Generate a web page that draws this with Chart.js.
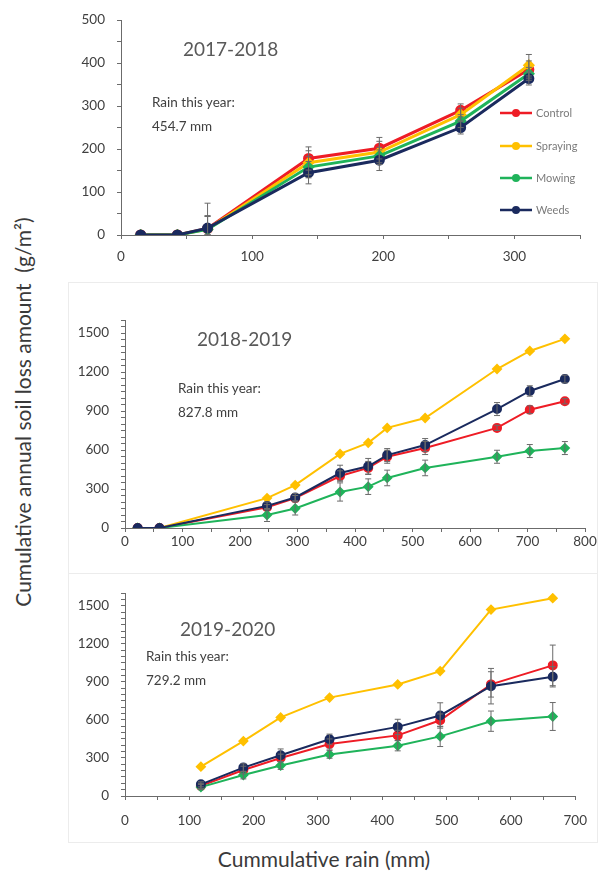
<!DOCTYPE html>
<html>
<head>
<meta charset="utf-8">
<script src="https://cdn.jsdelivr.net/npm/chart.js@4.4.1/dist/chart.umd.min.js"></script>
<style>
  body { margin: 0; background: #fff; font-family: Lato, "Open Sans", sans-serif; }
  #page { position: relative; width: 602px; height: 876px; overflow: hidden; }
  .panel { position: absolute; }
  .frame { position: absolute; border: 1px solid #ececec; }
  .txt { position: absolute; color: #404040; white-space: nowrap; }
  .year { font-size: 19px; color: #595959; }
  .rain { font-size: 13.5px; line-height: 24px; }
  .axtitle { font-size: 21px; color: #3a3a3a; }
</style>
</head>
<body>
<div id="page">
  <div class="frame" style="left:68px;top:282px;width:528px;height:290px;"></div>
  <div class="frame" style="left:68px;top:573px;width:528px;height:268px;"></div>

  <div class="panel" style="left:60px;top:0;width:530px;height:275px;"><canvas id="c1"></canvas></div>
  <div class="panel" style="left:60px;top:283px;width:540px;height:290px;"><canvas id="c2"></canvas></div>
  <div class="panel" style="left:60px;top:573px;width:540px;height:257px;"><canvas id="c3"></canvas></div>

  <div class="txt year" style="left:183px;top:37px;">2017-2018</div>
  <div class="txt rain" style="left:152px;top:90px;">Rain this year:<br>454.7 mm</div>

  <div class="txt year" style="left:197px;top:327px;">2018-2019</div>
  <div class="txt rain" style="left:178px;top:376px;">Rain this year:<br>827.8 mm</div>

  <div class="txt year" style="left:180px;top:617px;">2019-2020</div>
  <div class="txt rain" style="left:146px;top:644px;">Rain this year:<br>729.2 mm</div>

  <div class="txt axtitle" style="left:22px;top:412px;transform:translate(-50%,-50%) rotate(-90deg);">Cumulative annual soil loss amount&nbsp; (g/m²)</div>
  <div class="txt axtitle" style="left:324px;top:858px;transform:translate(-50%,-50%);">Cummulative rain (mm)</div>
</div>

<script>
// series names and colours
var seriesNames = ["Control", "Spraying", "Mowing", "Weeds"];
var seriesColors = ["#ee1c25", "#ffc000", "#1fb35a", "#1a2a5e"];
var seriesMarkers = ["circle", "rectRot", "rectRot", "circle"];

// 2017-2018
var rain1 = [15, 43, 66, 143, 197, 259, 311];
var control1 = [0, 0, 15, 178, 202, 290, 385];
var spraying1 = [0, 0, 14, 168, 193, 280, 395];
var mowing1 = [0, 0, 13, 158, 184, 265, 375];
var weeds1 = [0, 0, 16, 145, 174, 250, 364];
var controlErr1 = [0, 0, 30, 27, 25, 15, 20];
var sprayingErr1 = [0, 0, 30, 28, 25, 15, 25];
var mowingErr1 = [0, 0, 30, 25, 20, 15, 15];
var weedsErr1 = [0, 0, 58, 26, 24, 15, 15];

// 2018-2019
var rain2 = [22, 60, 247, 296, 374, 423, 456, 522, 647, 704, 765];
var control2 = [0, 0, 160, 230, 400, 462, 548, 615, 770, 910, 975];
var spraying2 = [0, 0, 230, 330, 570, 655, 770, 846, 1223, 1362, 1455];
var mowing2 = [0, 0, 100, 150, 277, 318, 385, 462, 548, 592, 615];
var weeds2 = [0, 0, 170, 235, 423, 475, 561, 638, 915, 1054, 1146];
var controlErr2 = [0, 0, 20, 20, 40, 50, 50, 50, 20, 30, 20];
var sprayingErr2 = [0, 0, 0, 0, 0, 0, 0, 0, 0, 0, 0];
var mowingErr2 = [0, 0, 50, 50, 70, 60, 60, 60, 50, 50, 50];
var weedsErr2 = [0, 0, 30, 30, 60, 60, 50, 50, 50, 40, 30];

// 2019-2020
var rain3 = [118, 184, 242, 318, 424, 490, 569, 665];
var control3 = [80, 205, 300, 410, 478, 597, 880, 1030];
var spraying3 = [231, 433, 620, 776, 880, 985, 1470, 1560];
var mowing3 = [70, 165, 240, 328, 396, 470, 590, 627];
var weeds3 = [92, 224, 321, 448, 545, 635, 866, 940];
var controlErr3 = [20, 30, 30, 40, 40, 50, 100, 160];
var sprayingErr3 = [0, 0, 0, 0, 0, 0, 0, 0];
var mowingErr3 = [20, 30, 30, 30, 40, 80, 80, 110];
var weedsErr3 = [20, 30, 50, 40, 60, 100, 140, 80];

var axisColor = "#6b6b6b";
var tickColor = "#404040";

function points(xs, ys) {
    return xs.map(function (x, i) { return { x: x, y: ys[i] }; });
}

function makeDatasets(xs, lists, errs, lineWidth) {
    return lists.map(function (ys, i) {
        return {
            label: seriesNames[i],
            data: points(xs, ys),
            errors: errs[i],
            borderColor: seriesColors[i],
            backgroundColor: seriesColors[i],
            borderWidth: lineWidth,
            pointStyle: seriesMarkers[i],
            pointRadius: 4,
            pointHoverRadius: 4,
            tension: 0,
            order: 3 - i,
        };
    });
}

// vertical error bars with caps, placed through the chart's own scales
var errorBars = {
    id: "errorBars",
    afterDatasetsDraw: function (chart) {
        var ctx = chart.ctx;
        var ys = chart.scales.y;
        ctx.save();
        ctx.strokeStyle = "#6a6a6a";
        ctx.lineWidth = 1;
        chart.data.datasets.forEach(function (ds, di) {
            var meta = chart.getDatasetMeta(di);
            meta.data.forEach(function (pt, i) {
                var e = ds.errors[i];
                if (!e) return;
                var v = ds.data[i].y;
                var top = ys.getPixelForValue(v + e);
                var bot = ys.getPixelForValue(Math.max(v - e, 0));
                ctx.beginPath();
                ctx.moveTo(pt.x, top); ctx.lineTo(pt.x, bot);
                ctx.moveTo(pt.x - 3, top); ctx.lineTo(pt.x + 3, top);
                ctx.moveTo(pt.x - 3, bot); ctx.lineTo(pt.x + 3, bot);
                ctx.stroke();
            });
        });
        ctx.restore();
    },
};

// legend inside the first panel
var innerLegend = {
    id: "innerLegend",
    afterDraw: function (chart) {
        if (!chart.options.plugins.innerLegend.show) return;
        var ctx = chart.ctx;
        var rows = [113, 146, 178, 210];
        ctx.save();
        ctx.font = "11px Lato";
        ctx.textBaseline = "middle";
        seriesNames.forEach(function (name, i) {
            var y = rows[i];
            ctx.strokeStyle = seriesColors[i];
            ctx.lineWidth = 2.5;
            ctx.beginPath();
            ctx.moveTo(440, y); ctx.lineTo(472, y);
            ctx.stroke();
            ctx.fillStyle = seriesColors[i];
            ctx.beginPath();
            ctx.arc(456, y, 4, 0, Math.PI * 2);
            ctx.fill();
            ctx.fillStyle = "#7a7a7a";
            ctx.fillText(name, 476, y);
        });
        ctx.restore();
    },
};

function makeChart(id, datasets, opt) {
    return new Chart(document.getElementById(id).getContext("2d"), {
        type: "line",
        data: { datasets: datasets },
        plugins: [errorBars, innerLegend],
        options: {
            responsive: true,
            maintainAspectRatio: false,
            animation: false,
            layout: { padding: { left: 0, top: opt.padTop, right: opt.padRight, bottom: 0 } },
            plugins: {
                legend: { display: false },
                tooltip: { enabled: false },
                innerLegend: { show: opt.legend },
            },
            scales: {
                x: {
                    type: "linear",
                    min: 0,
                    max: opt.xMax,
                    afterFit: function (s) { s.height = opt.xHeight; },
                    border: { color: axisColor, width: 1 },
                    grid: { drawOnChartArea: false, drawTicks: true, tickLength: 4, color: axisColor },
                    ticks: {
                        stepSize: 50,
                        autoSkip: false,
                        maxRotation: 0,
                        padding: opt.xPad,
                        color: tickColor,
                        font: { family: "Lato", size: 13.5 },
                        callback: function (v) { return v % 100 === 0 ? v : ""; },
                    },
                },
                y: {
                    min: 0,
                    max: opt.yMax,
                    afterFit: function (s) { s.width = opt.yWidth; },
                    border: { color: axisColor, width: 1 },
                    grid: { drawOnChartArea: false, drawTicks: true, tickLength: 4, color: axisColor },
                    ticks: {
                        stepSize: 50,
                        autoSkip: false,
                        padding: 12,
                        color: tickColor,
                        font: { family: "Lato", size: 13.5 },
                        callback: function (v) { return v % opt.yLabelStep === 0 ? v : ""; },
                    },
                },
            },
        },
    });
}

makeChart("c1",
    makeDatasets(rain1, [control1, spraying1, mowing1, weeds1],
        [controlErr1, sprayingErr1, mowingErr1, weedsErr1], 3),
    { xMax: 350, yMax: 500, yLabelStep: 100, yWidth: 61, xHeight: 40, padTop: 16, padRight: 10, xPad: 10, legend: true });

makeChart("c2",
    makeDatasets(rain2, [control2, spraying2, mowing2, weeds2],
        [controlErr2, sprayingErr2, mowingErr2, weedsErr2], 2),
    { xMax: 800, yMax: 1600, yLabelStep: 300, yWidth: 65, xHeight: 45, padTop: 37, padRight: 15, xPad: 2, legend: false });

makeChart("c3",
    makeDatasets(rain3, [control3, spraying3, mowing3, weeds3],
        [controlErr3, sprayingErr3, mowingErr3, weedsErr3], 2),
    { xMax: 700, yMax: 1600, yLabelStep: 300, yWidth: 65, xHeight: 34, padTop: 9, padRight: 18, xPad: 13, legend: false });
</script>
</body>
</html>
